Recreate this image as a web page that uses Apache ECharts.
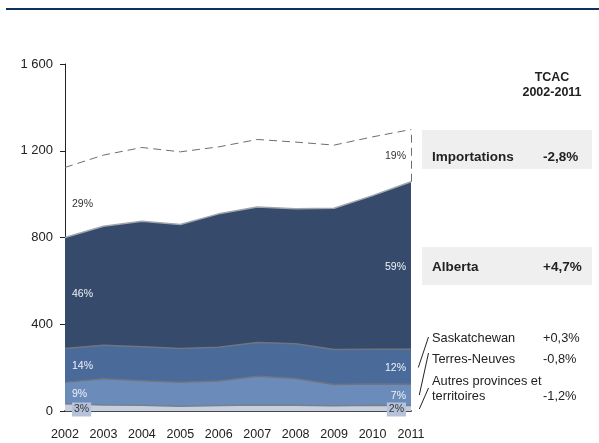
<!DOCTYPE html>
<html>
<head>
<meta charset="utf-8">
<script src="https://cdn.jsdelivr.net/npm/echarts@6/dist/echarts.min.js"></script>
<style>html,body{margin:0;padding:0;background:#fff;}#c{width:599px;height:443px;}</style>
</head>
<body>
<div id="c"></div>
<script>
var years = ['2002','2003','2004','2005','2006','2007','2008','2009','2010','2011'];
var autres = [33,28,27,22,25,28,26,24,26,25];
var terresNeuves = [99,121,112,111,113,132,124,98,98,98];
var saskatchewan = [156,154,157,155,156,156,160,162,161,162];
var alberta = [512,549,579,572,615,625,622,651,708,772];
var importations = [323,328,340,335,309,311,308,291,271,241];
var yTicks = [0,400,800,1200,1600];
var sharesStart = ['3%','9%','14%','46%','29%'];
var sharesEnd = ['2%','7%','12%','59%','19%'];
var tcacNames = ['Importations','Alberta','Saskatchewan','Terres-Neuves'];
var tcacValues = ['-2,8%','+4,7%','+0,3%','-0,8%','-1,2%'];

var F = 'Liberation Sans, Arial, sans-serif';
var chart = echarts.init(document.getElementById('c'), null, {renderer:'canvas'});

function areaSeries(name, data, color, lineColor){
  return {name:name,type:'line',stack:'t',data:data,symbol:'none',smooth:false,
    lineStyle:{color:lineColor,width:1.5},areaStyle:{color:color,opacity:1},z:2};
}
var last = years.length-1;
var albTop = autres[last]+terresNeuves[last]+saskatchewan[last]+alberta[last];
var total = albTop+importations[last];

var series = [
  areaSeries('Autres', autres, '#c5cfe0', '#7a7f88'),
  areaSeries('Terres-Neuves', terresNeuves, '#6b8cbb', '#6f7580'),
  areaSeries('Saskatchewan', saskatchewan, '#4a6a9a', '#6f7580'),
  areaSeries('Alberta', alberta, '#364b6b', '#a0a6ae'),
  {name:'Importations',type:'line',stack:'t',data:importations,symbol:'none',
   lineStyle:{color:'#6a6f78',width:1,type:[8,5]},z:3,
   markLine:{symbol:'none',silent:true,label:{show:false},
     lineStyle:{color:'#6a6f78',width:1,type:[8,5]},
     data:[[{coord:[years[last],albTop]},{coord:[years[last],total]}]]}}
];

function txt(x,y,t,opt){
  opt=opt||{};
  return {type:'text',x:x,y:y,z:10,style:{text:t,x:0,y:0,
    fill:opt.fill||'#222',font:(opt.bold?'bold ':'')+(opt.size||12)+'px '+F,
    textAlign:opt.align||'left',textVerticalAlign:'middle',
    backgroundColor:opt.bg,padding:opt.pad}};
}
var g = [];
g.push({type:'rect',shape:{x:6,y:8,width:593,height:2},style:{fill:'#0b3560'}});
var leftY = [409.5,394.3,366.3,294.3,204];
var rightY = [409.5,395.7,368.3,267.3,156];
for (var i=0;i<5;i++){
  var dark = i===4 || i===0;
  var bg = i===0 ? '#b6c2da' : undefined;
  g.push(txt(72,leftY[i],sharesStart[i],{size:10.5,fill:dark?'#333':'#eef2f8',bg:bg,pad:i===0?[2,2,1,2]:undefined}));
  g.push(txt(406,rightY[i],sharesEnd[i],{size:10.5,align:'right',fill:dark?'#333':'#eef2f8',bg:bg,pad:i===0?[2,2,1,2]:undefined}));
}
g.push(txt(552,77.7,'TCAC',{bold:true,size:12.5,align:'center'}));
g.push(txt(552,92.7,'2002-2011',{bold:true,size:12.5,align:'center'}));
g.push({type:'rect',shape:{x:422,y:130,width:170,height:39},style:{fill:'#efefef'}});
g.push({type:'rect',shape:{x:422,y:247,width:170,height:38},style:{fill:'#efefef'}});
g.push(txt(432,157,tcacNames[0],{bold:true,size:13.5}));
g.push(txt(543,157,tcacValues[0],{bold:true,size:13.5}));
g.push(txt(432,267.5,tcacNames[1],{bold:true,size:13.5}));
g.push(txt(543,267.5,tcacValues[1],{bold:true,size:13.5}));
g.push(txt(432,338,tcacNames[2],{size:12.8}));
g.push(txt(543,338,tcacValues[2],{size:12.8}));
g.push(txt(432,359,tcacNames[3],{size:12.8}));
g.push(txt(543,359,tcacValues[3],{size:12.8}));
g.push(txt(432,381,'Autres provinces et',{size:12.8}));
g.push(txt(432,396,'territoires',{size:12.8}));
g.push(txt(543,396,tcacValues[4],{size:12.8}));
var lines = [[418.3,367.5,428.5,337],[419.3,395,428.5,353],[419.3,409,428.5,388]];
lines.forEach(function(l){
  g.push({type:'line',shape:{x1:l[0],y1:l[1],x2:l[2],y2:l[3]},style:{stroke:'#222',lineWidth:1}});
});

chart.setOption({
  animation:false,
  backgroundColor:'#fff',
  grid:{left:65,right:188,top:64,bottom:32,containLabel:false},
  xAxis:{type:'category',data:years,boundaryGap:false,
    axisLine:{show:true,lineStyle:{color:'#4a4a4a',width:2}},
    axisTick:{show:false},
    axisLabel:{color:'#222',fontSize:12.5,fontFamily:F,margin:17}},
  yAxis:{type:'value',min:0,max:1600,interval:400,
    axisLine:{show:true,lineStyle:{color:'#222',width:1}},
    axisTick:{show:true,inside:false,length:5,lineStyle:{color:'#222'}},
    splitLine:{show:false},
    axisLabel:{color:'#222',fontSize:13,fontFamily:F,margin:12,
      formatter:function(v){return String(v).replace(/\B(?=(\d{3})+(?!\d))/g,' ');}}},
  series:series,
  graphic:g
});
</script>
</body>
</html>
